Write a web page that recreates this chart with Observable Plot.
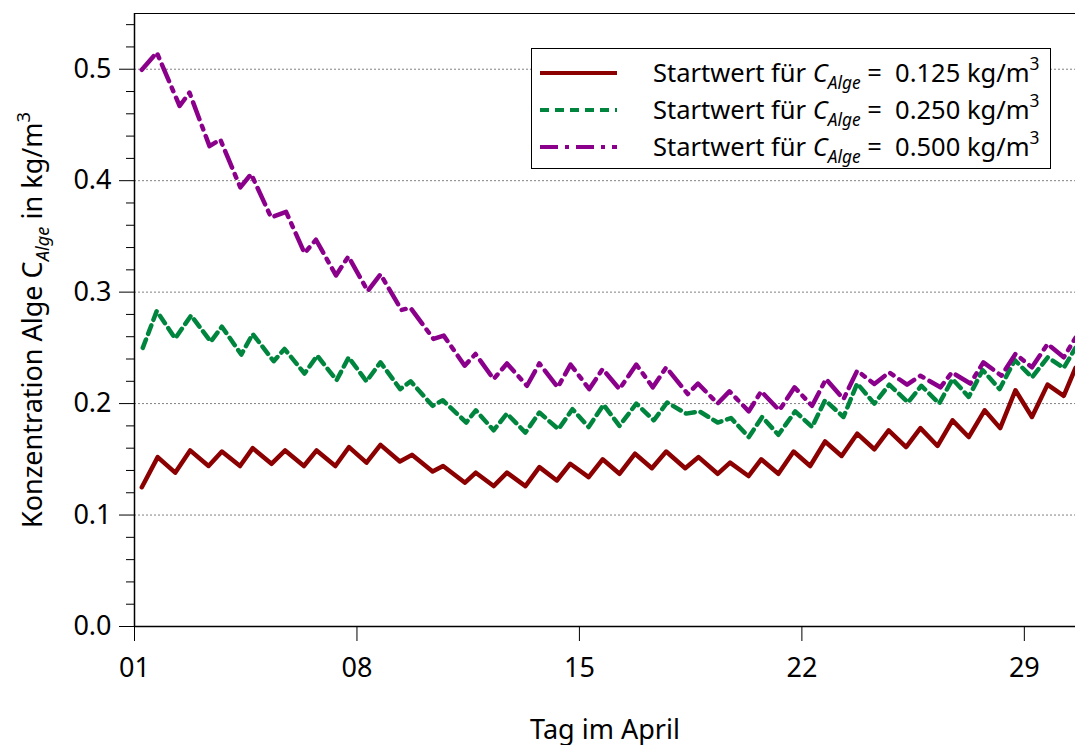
<!DOCTYPE html>
<html><head><meta charset="utf-8">
<script src="https://cdn.jsdelivr.net/npm/d3@7"></script>
<script src="https://cdn.jsdelivr.net/npm/@observablehq/plot@0.6"></script>
<style>
body{margin:0;background:#fff;}
#wrap{position:relative;width:1075px;height:745px;font-family:"Noto Sans",sans-serif;}
#legend{position:absolute;left:531px;top:48px;}
text{white-space:pre;}
</style></head><body><div id="wrap"></div>
<script>
// ---- data ----
const dayRed = [1.23,1.73,2.28,2.75,3.33,3.75,4.32,4.72,5.31,5.74,6.33,6.73,7.32,7.75,8.30,8.74,9.35,9.73,10.38,10.71,11.40,11.74,12.30,12.72,13.30,13.74,14.29,14.71,15.29,15.73,16.26,16.75,17.28,17.73,18.33,18.75,19.35,19.74,20.32,20.72,21.26,21.74,22.26,22.73,23.25,23.74,24.28,24.73,25.28,25.73,26.27,26.74,27.25,27.75,28.24,28.72,29.24,29.73,30.24,30.61];
const concRed = [0.125,0.152,0.138,0.158,0.144,0.157,0.144,0.160,0.146,0.158,0.144,0.158,0.144,0.161,0.147,0.163,0.148,0.154,0.139,0.144,0.129,0.138,0.126,0.138,0.126,0.143,0.131,0.146,0.134,0.150,0.137,0.155,0.142,0.157,0.142,0.152,0.137,0.147,0.135,0.150,0.137,0.157,0.144,0.166,0.153,0.173,0.159,0.176,0.161,0.178,0.162,0.185,0.170,0.194,0.178,0.212,0.188,0.217,0.207,0.232];

const dayGreen = [1.26,1.70,2.28,2.78,3.40,3.75,4.36,4.72,5.38,5.72,6.35,6.75,7.36,7.74,8.30,8.74,9.36,9.69,10.38,10.70,11.44,11.74,12.30,12.72,13.30,13.74,14.34,14.78,15.29,15.76,16.26,16.79,17.34,17.76,18.36,18.78,19.35,19.77,20.33,20.75,21.26,21.79,22.32,22.73,23.31,23.74,24.28,24.75,25.34,25.76,26.32,26.74,27.25,27.69,28.22,28.70,29.24,29.74,30.24,30.61];
const concGreen = [0.250,0.283,0.2585,0.279,0.2556,0.269,0.244,0.2625,0.238,0.249,0.227,0.243,0.221,0.2415,0.220,0.237,0.213,0.220,0.198,0.203,0.183,0.194,0.176,0.191,0.174,0.192,0.177,0.195,0.179,0.199,0.180,0.200,0.185,0.201,0.191,0.193,0.183,0.187,0.170,0.188,0.172,0.193,0.179,0.203,0.188,0.218,0.200,0.217,0.201,0.216,0.200,0.222,0.206,0.230,0.213,0.239,0.2235,0.2415,0.232,0.250];

const dayPurple = [1.23,1.70,2.42,2.73,3.36,3.70,4.33,4.67,5.30,5.77,6.35,6.71,7.34,7.73,8.34,8.74,9.40,9.68,10.41,10.73,11.39,11.73,12.30,12.72,13.35,13.74,14.32,14.72,15.31,15.73,16.26,16.79,17.31,17.73,18.41,18.73,19.35,19.72,20.33,20.72,21.29,21.77,22.32,22.76,23.31,23.74,24.28,24.75,25.31,25.73,26.36,26.72,27.30,27.71,28.28,28.72,29.24,29.73,30.24,30.61];
const concPurple = [0.4995,0.515,0.467,0.479,0.431,0.437,0.394,0.406,0.367,0.372,0.335,0.347,0.315,0.332,0.301,0.316,0.284,0.286,0.258,0.261,0.234,0.2445,0.222,0.236,0.216,0.236,0.2146,0.235,0.213,0.231,0.213,0.235,0.2146,0.2325,0.2086,0.218,0.200,0.211,0.193,0.211,0.194,0.2146,0.198,0.222,0.204,0.2295,0.2176,0.228,0.217,0.225,0.2146,0.228,0.218,0.237,0.225,0.2445,0.2325,0.2535,0.2415,0.259];

const startValues = ["0.125","0.250","0.500"];
const seriesColors = ["#8b0000","#00853e","#8b008b"];
const seriesDash = [null,"9,6","18,7,4,7"];
const xTicks = [1,8,15,22,29];
const yTicks = [0,0.1,0.2,0.3,0.4,0.5];
const yMinorTicks = [0.02,0.04,0.06,0.08,0.12,0.14,0.16,0.18,0.22,0.24,0.26,0.28,0.32,0.34,0.36,0.38,0.42,0.44,0.46,0.48,0.52,0.54];
const xLabel = "Tag im April";
const yLabel = "Konzentration Alge C_{Alge} in kg/m^{3}";

// ---- build tables ----
const seriesDays = [dayRed, dayGreen, dayPurple];
const seriesConc = [concRed, concGreen, concPurple];
const tables = seriesDays.map((days, s) => days.map((d, i) => ({day: d, conc: seriesConc[s][i]})));

const FS = 27;
const plot = Plot.plot({
  width: 1075, height: 745,
  marginLeft: 134, marginRight: 0, marginTop: 13, marginBottom: 119,
  style: {fontFamily: "'Noto Sans', sans-serif", fontSize: FS + "px", color: "#000", background: "white", overflow: "visible"},
  x: {domain: [1, 30.61], label: null},
  y: {domain: [0, 0.55], label: null},
  marks: [
    Plot.gridY(yTicks.filter(t => t > 0), {stroke: "#808080", strokeOpacity: 1, strokeDasharray: "2,2", strokeWidth: 1}),
    ...tables.map((t, s) => Plot.line(t, {x: "day", y: "conc", stroke: seriesColors[s], strokeWidth: 4.5, strokeDasharray: seriesDash[s], strokeLinejoin: "round"})),
    Plot.ruleY([0.55], {stroke: "#000", strokeWidth: 1}),
    Plot.ruleY([0], {stroke: "#000", strokeWidth: 1.5}),
    Plot.ruleX([1], {stroke: "#000", strokeWidth: 1.5}),
    Plot.axisY(yMinorTicks, {tickSize: 8, tickFormat: () => "", label: null, stroke: "#000"}),
    Plot.axisY(yTicks, {tickSize: 15, tickPadding: 8, tickFormat: d => d.toFixed(1), label: null, fontSize: FS, stroke: "#000"}),
    Plot.axisX(xTicks, {tickSize: 15, tickPadding: 16, tickFormat: d => String(d).padStart(2, "0"), label: null, fontSize: FS, stroke: "#000"}),
    Plot.text([xLabel], {frameAnchor: "bottom", dy: 104, textAnchor: "middle", lineAnchor: "middle", fontSize: FS, fill: "#000"}),
    Plot.text([yLabel], {frameAnchor: "left", dx: 0, dy: 0, textAnchor: "middle", lineAnchor: "middle", rotate: -90, fontSize: FS, fill: "#000"})
  ]
});

// rich text: _{sub}, ^{sup}, *{italic}
function richify(el, str) {
  const sel = d3.select(el);
  sel.text(null);
  const parts = str.split(/(_\{[^}]*\}|\^\{[^}]*\}|\*\{[^}]*\})/).filter(p => p.length);
  let shift = 0;
  for (const p of parts) {
    const t = sel.append("tspan");
    if (p.startsWith("_{")) {
      t.text(p.slice(2, -1)).attr("font-size", "0.68em").attr("font-style", "italic").attr("dy", 7 - shift);
      shift = 7;
    } else if (p.startsWith("^{")) {
      t.text(p.slice(2, -1)).attr("font-size", "0.68em").attr("dy", -12 - shift);
      shift = -12;
    } else if (p.startsWith("*{")) {
      t.text(p.slice(2, -1)).attr("font-style", "italic");
      if (shift !== 0) { t.attr("dy", -shift); shift = 0; }
    } else {
      t.text(p);
      if (shift !== 0) { t.attr("dy", -shift); shift = 0; }
    }
  }
}
d3.select(plot).selectAll("text").each(function() {
  const s = this.textContent;
  if (s.includes("_{") || s.includes("^{")) richify(this, s);
});
// place the rotated y label 101px left of the frame (shift in screen space)
d3.select(plot).selectAll("text").filter(function() { return this.textContent.startsWith("Konzentration"); })
  .each(function() {
    const tr = this.getAttribute("transform") || "";
    this.setAttribute("transform", "translate(-101,0) " + tr);
  });

const wrap = document.getElementById("wrap");
wrap.appendChild(plot);

// ---- legend ----
const lg = d3.select(wrap).append("svg").attr("id", "legend").attr("width", 521).attr("height", 122)
  .style("font-family", "'Noto Sans', sans-serif");
lg.append("rect").attr("x", 0.5).attr("y", 0.5).attr("width", 519).attr("height", 120).attr("fill", "white").attr("stroke", "#000").attr("stroke-width", 1);
startValues.forEach((v, i) => {
  const yy = 25 + i * 37;
  lg.append("line").attr("x1", 9).attr("x2", 86).attr("y1", yy).attr("y2", yy)
    .attr("stroke", seriesColors[i]).attr("stroke-width", 4).attr("stroke-dasharray", seriesDash[i]);
  const t = lg.append("text").attr("x", 122).attr("y", yy + 9).attr("font-size", 25.5).attr("fill", "#000").node();
  richify(t, "Startwert für *{C}_{Alge} =  " + v + " kg/m^{3}");
});
</script></body></html>
